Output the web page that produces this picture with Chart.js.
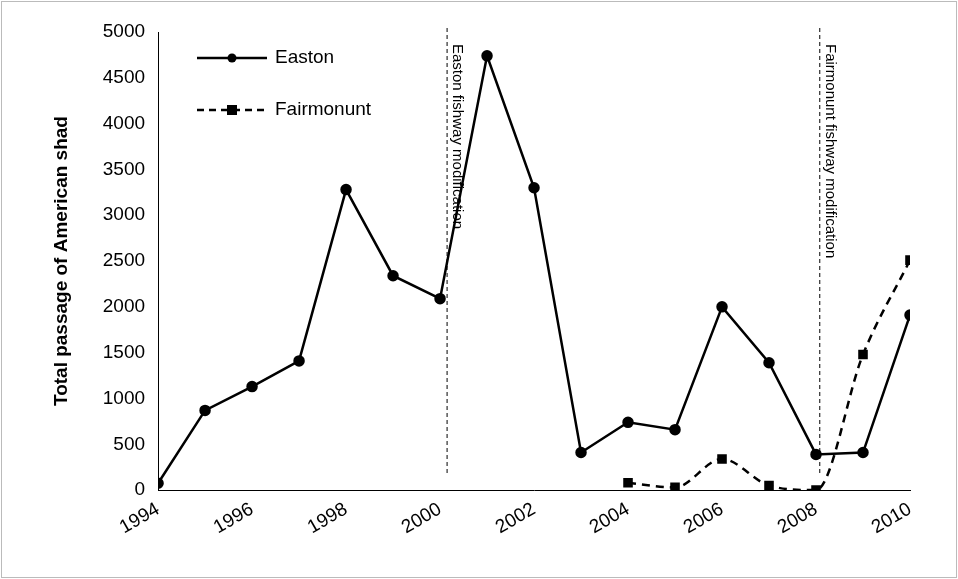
<!DOCTYPE html>
<html><head><meta charset="utf-8">
<script src="https://cdn.jsdelivr.net/npm/chart.js@4"></script>
<style>
html,body{margin:0;padding:0;background:#fff;}
#wrap{position:absolute;left:1px;top:1px;width:954px;height:575px;border:1px solid #bbb;}
</style></head><body>
<div id="wrap"><canvas id="c"></canvas></div>
<script>
var years = [1994,1995,1996,1997,1998,1999,2000,2001,2002,2003,2004,2005,2006,2007,2008,2009,2010];
var easton = [75,870,1130,1410,3280,2340,2090,4740,3300,410,740,660,2000,1390,390,410,1910];
var fairYears = [2004,2005,2006,2007,2008,2009,2010];
var fairmonunt = [80,30,340,50,0,1480,2510];
var markers = [[2000.15,'Easton fishway modification'],[2008.08,'Fairmonunt fishway modification']];

var vlines = {
  id: 'vlines',
  afterDatasetsDraw: function (chart) {
    var ctx = chart.ctx, x = chart.scales.x, y = chart.scales.y;
    ctx.save();
    markers.forEach(function (m) {
      var px = x.getPixelForValue(m[0]);
      ctx.save();
      ctx.strokeStyle = '#000'; ctx.lineWidth = 1; ctx.setLineDash([4,3]);
      ctx.beginPath(); ctx.moveTo(px, y.top - 4); ctx.lineTo(px, y.getPixelForValue(180)); ctx.stroke();
      ctx.setLineDash([]);
      ctx.translate(px + 8, y.top + 12); ctx.rotate(Math.PI/2);
      ctx.fillStyle = '#000'; ctx.font = '15px "Liberation Sans", Arial'; ctx.textBaseline = 'top';
      ctx.fillText(m[1], 0, -10);
      ctx.restore();
    });
    var items = [['Easton', [], 'circle'], ['Fairmonunt', [7,5], 'rect']];
    items.forEach(function (it, i) {
      var ly = 56 + i * 52, lx = 195;
      ctx.strokeStyle = '#000'; ctx.lineWidth = 2.5; ctx.setLineDash(it[1]);
      ctx.beginPath(); ctx.moveTo(lx, ly); ctx.lineTo(lx + 70, ly); ctx.stroke();
      ctx.setLineDash([]); ctx.fillStyle = '#000';
      if (it[2] === 'circle') { ctx.beginPath(); ctx.arc(lx + 35, ly, 4.5, 0, Math.PI*2); ctx.fill(); }
      else ctx.fillRect(lx + 30, ly - 5, 10, 10);
      ctx.font = '19px "Liberation Sans", Arial'; ctx.textBaseline = 'middle';
      ctx.fillText(it[0], lx + 78, ly);
    });
    ctx.restore();
  }
};

new Chart(document.getElementById('c'), {
  type: 'line',
  data: {
    datasets: [
      { label: 'Easton', data: years.map(function (y, i) { return {x: y, y: easton[i]}; }),
        borderColor: '#000', backgroundColor: '#000', borderWidth: 2.5,
        pointStyle: 'circle', pointRadius: 4.5, tension: 0 },
      { label: 'Fairmonunt', data: fairYears.map(function (y, i) { return {x: y, y: fairmonunt[i]}; }),
        borderColor: '#000', backgroundColor: '#000', borderWidth: 2.5, borderDash: [8,6],
        pointStyle: 'rect', pointRadius: 5, cubicInterpolationMode: 'monotone' }
    ]
  },
  options: {
    responsive: true, maintainAspectRatio: false, animation: false,
    layout: { padding: { left: 44, right: 46, top: 30, bottom: 35 } },
    plugins: { legend: { display: false }, tooltip: { enabled: false } },
    scales: {
      x: { type: 'linear', min: 1994, max: 2010,
        grid: { display: false, tickLength: 5 },
        border: { color: '#000', width: 1 },
        ticks: { stepSize: 2, color: '#000', maxRotation: 30, minRotation: 30, autoSkip: false,
          font: { size: 19, family: '"Liberation Sans", Arial' },
          callback: function (v) { return String(v); } } },
      y: { min: 0, max: 5000,
        grid: { display: false, tickLength: 5 },
        border: { color: '#000', width: 1 },
        title: { display: true, text: 'Total passage of American shad', color: '#000',
          padding: { top: 4, bottom: 22 },
          font: { size: 19, weight: 'bold', family: '"Liberation Sans", Arial' } },
        ticks: { stepSize: 500, color: '#000', padding: 8, font: { size: 19, family: '"Liberation Sans", Arial' },
          callback: function (v) { return String(v); } } }
    }
  },
  plugins: [vlines]
});
</script></body></html>
